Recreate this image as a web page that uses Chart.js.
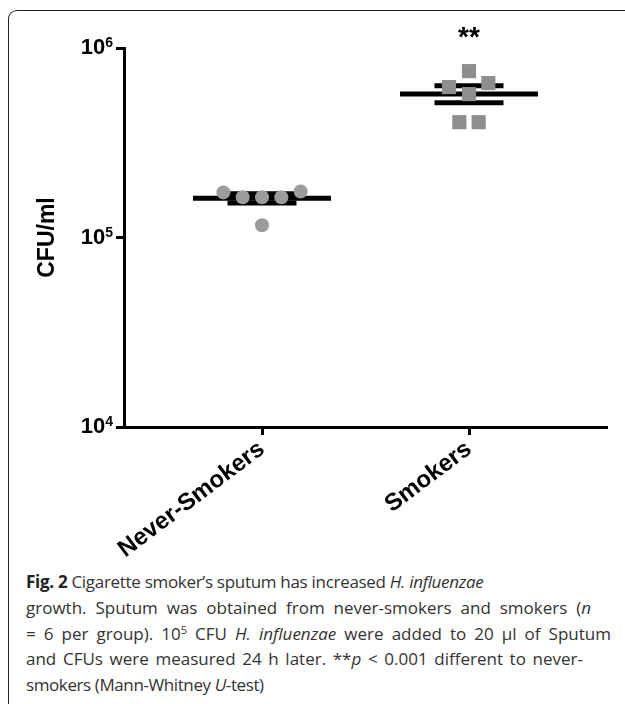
<!DOCTYPE html>
<html>
<head>
<meta charset="utf-8">
<script src="https://cdn.jsdelivr.net/npm/chart.js@4.4.0/dist/chart.umd.min.js"></script>
<style>
html, body { margin:0; padding:0; background:#fff; }
body { width:625px; height:704px; position:relative; overflow:hidden; }
#frame { position:absolute; left:8px; top:10px; width:700px; height:800px;
  border-left:1.5px solid #222; border-top:1.5px solid #222; border-top-left-radius:9px; }
#wrap { position:absolute; left:0; top:0; width:625px; height:560px; }
#caption { position:absolute; left:26px; top:569px; font-family:"Open Sans", sans-serif;
  font-size:17px; line-height:25.8px; color:#333; white-space:nowrap; }
#caption b { color:#222; }
#caption sup { font-size:11px; line-height:0; vertical-align:6px; }
#caption .j { text-align:justify; text-align-last:justify; }
</style>
</head>
<body>
<div id="frame"></div>
<div id="wrap"><canvas id="chart"></canvas></div>
<div id="caption">
<div style="letter-spacing:-0.3px"><b>Fig. 2</b> Cigarette smoker’s sputum has increased <i>H. influenzae</i></div>
<div class="j" style="width:565px">growth. Sputum was obtained from never-smokers and smokers (<i>n</i></div>
<div class="j" style="width:585px">= 6 per group). 10<sup>5</sup> CFU <i>H. influenzae</i> were added to 20 µl of Sputum</div>
<div class="j" style="width:557px">and CFUs were measured 24 h later. **<i>p</i> &lt; 0.001 different to never-</div>
<div style="letter-spacing:-0.4px">smokers (Mann-Whitney <i>U</i>-test)</div>
</div>
<script>
// groups and where they sit on the x axis
const groups = ["Never-Smokers", "Smokers"];
const groupX = [1, 2.5];

// CFU/ml per sample, with horizontal scatter (x units) as in the figure
const neverValues = [173000, 163000, 163000, 163000, 175000, 116000];
const neverJitter = [-0.28, -0.14, 0, 0.14, 0.28, 0];
const smokerValues = [755000, 622000, 653000, 571000, 406000, 406000];
const smokerJitter = [0, -0.145, 0.14, 0, -0.07, 0.07];

// mean and SEM
const means = [161000, 571000];
const semHigh = [170000, 632000];
const semLow = [152000, 514000];

const yTicks = [1e4, 1e5, 1e6];

const FONT = '"Liberation Sans", Arial, sans-serif';

function hline(cx, half, v) {
  return {
    data: [{x: cx - half, y: v}, {x: cx + half, y: v}],
    showLine: true, borderColor: "#000", borderWidth: 5,
    pointRadius: 0, pointHoverRadius: 0, borderCapStyle: "butt"
  };
}

let datasets = [
  {
    label: groups[0],
    data: neverValues.map((v, i) => ({x: groupX[0] + neverJitter[i], y: v})),
    pointStyle: "circle", pointRadius: 7, pointHoverRadius: 7,
    backgroundColor: "#9c9c9c", borderWidth: 0
  },
  {
    label: groups[1],
    data: smokerValues.map((v, i) => ({x: groupX[1] + smokerJitter[i], y: v})),
    pointStyle: "rect", pointRadius: 10, pointHoverRadius: 10,
    backgroundColor: "#8e8e8e", borderWidth: 0
  }
];
groupX.forEach((cx, i) => {
  datasets.push(hline(cx, 0.5, means[i]));
  datasets.push(hline(cx, 0.25, semHigh[i]));
  datasets.push(hline(cx, 0.25, semLow[i]));
});

const annot = {
  id: "annot",
  afterDraw(chart) {
    const {ctx, scales: {x, y}} = chart;
    ctx.save();
    ctx.fillStyle = "#000";
    ctx.textAlign = "right";
    ctx.textBaseline = "alphabetic";
    yTicks.forEach(v => {
      const py = y.getPixelForValue(v);
      const exp = String(Math.round(Math.log10(v)));
      const right = y.right - 11;
      ctx.font = "bold 14px " + FONT;
      ctx.fillText(exp, right, py - 1);
      const w = ctx.measureText(exp).width;
      ctx.font = "bold 22px " + FONT;
      ctx.fillText("10", right - w, py + 6);
    });
    ctx.font = "bold 28px " + FONT;
    ctx.textAlign = "center";
    ctx.fillText("**", x.getPixelForValue(groupX[1]), y.top - 2);
    ctx.restore();
  }
};

new Chart(document.getElementById("chart"), {
  type: "scatter",
  data: {datasets},
  plugins: [annot],
  options: {
    responsive: true,
    maintainAspectRatio: false,
    animation: false,
    layout: {padding: {top: 48, right: 18, left: 0, bottom: 0}},
    plugins: {legend: {display: false}, tooltip: {enabled: false}},
    scales: {
      x: {
        type: "linear", min: 0, max: 3.5,
        afterBuildTicks: s => { s.ticks = groupX.map(v => ({value: v})); },
        afterFit: s => { s.height = 133; s.paddingLeft = 0; s.paddingRight = 0; },
        ticks: {
          callback: v => groups[groupX.indexOf(v)] || "",
          minRotation: 37, maxRotation: 37, autoSkip: false,
          color: "#000", padding: 0,
          font: {family: FONT, size: 24, weight: "bold"}
        },
        grid: {drawOnChartArea: false, tickLength: 8, tickWidth: 3, color: "#000"},
        border: {width: 3, color: "#000"}
      },
      y: {
        type: "logarithmic", min: 1e4, max: 1e6,
        afterBuildTicks: s => { s.ticks = yTicks.map(v => ({value: v})); },
        afterFit: s => { s.width = 124; },
        ticks: {display: false},
        grid: {drawOnChartArea: false, tickLength: 8, tickWidth: 3, color: "#000"},
        border: {width: 3, color: "#000"},
        title: {
          display: true, text: "CFU/ml", color: "#000",
          font: {family: FONT, size: 23, weight: "bold"},
          padding: {top: 34, bottom: 0}
        }
      }
    }
  }
});
</script>
</body>
</html>
